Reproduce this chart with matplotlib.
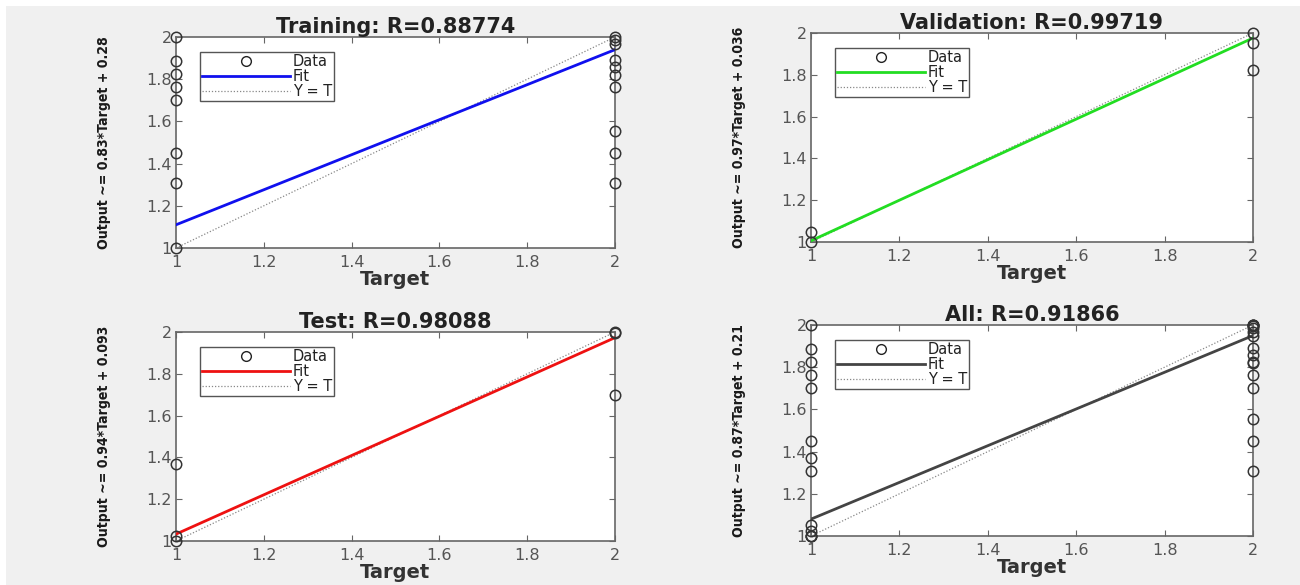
import matplotlib
matplotlib.use("Agg")
import matplotlib.pyplot as plt
from matplotlib.lines import Line2D
from matplotlib.patches import Rectangle
import numpy as np

# ---------------- data ----------------
titles = ["Training: R=0.88774", "Validation: R=0.99719", "Test: R=0.98088", "All: R=0.91866"]
slopes = [0.83, 0.97, 0.94, 0.87]
intercepts = [0.28, 0.036, 0.093, 0.21]
slope_txt = ["0.83", "0.97", "0.94", "0.87"]
icpt_txt = ["0.28", "0.036", "0.093", "0.21"]
fit_colors = ["#1010ee", "#22dd22", "#ee1111", "#444444"]

# outputs observed for target = 1 and target = 2
train_t1 = [2.0, 1.885, 1.825, 1.765, 1.70, 1.45, 1.31, 1.0]
train_t2 = [2.0, 1.985, 1.965, 1.89, 1.86, 1.82, 1.765, 1.555, 1.45, 1.31]
val_t1 = [1.05, 1.0]
val_t2 = [2.0, 1.95, 1.825]
test_t1 = [1.37, 1.025, 1.0]
test_t2 = [2.0, 1.995, 1.70]

targets = [1, 2]
x_ticks = [1, 1.2, 1.4, 1.6, 1.8, 2]
x_tick_labels = ["1", "1.2", "1.4", "1.6", "1.8", "2"]
y_ticks = [1, 1.2, 1.4, 1.6, 1.8, 2]
y_tick_labels = ["1", "1.2", "1.4", "1.6", "1.8", "2"]

sets_t1 = [train_t1, val_t1, test_t1, train_t1 + val_t1 + test_t1]
sets_t2 = [train_t2, val_t2, test_t2, train_t2 + val_t2 + test_t2]

# ---------------- layout ----------------
W, H = 1300, 585
fig = plt.figure(figsize=(W / 100, H / 100), dpi=100)
fig.patch.set_facecolor("white")
fig.patches.append(Rectangle((6 / W, 0), 1 - 6 / W, 1 - 6 / H, transform=fig.transFigure,
                             facecolor="#f0f0f0", edgecolor="none", zorder=-10))

# axes boxes in pixels: left, top, right, bottom
boxes = [(176, 37, 615, 248), (811, 33, 1253, 242),
         (176, 332, 615, 541), (811, 325, 1253, 536)]

tick_col = "#555555"
for i, (l, t, r, b) in enumerate(boxes):
    ax = fig.add_axes([l / W, (H - b) / H, (r - l) / W, (b - t) / H])
    ax.set_facecolor("white")
    xs = np.array(targets, dtype=float)
    # Y = T
    ax.plot(xs, xs, linestyle=(0, (1, 1.5)), color="#888888", linewidth=0.9, zorder=2)
    # fit
    ax.plot(xs, slopes[i] * xs + intercepts[i], color=fit_colors[i], linewidth=2.0, zorder=3)
    # data
    d1 = sets_t1[i]
    d2 = sets_t2[i]
    for tv, dv in ((targets[0], d1), (targets[1], d2)):
        ax.plot([tv] * len(dv), dv, linestyle="none", marker="o", markersize=7.5,
                markerfacecolor="none", markeredgecolor="#333333", markeredgewidth=1.1,
                clip_on=False, zorder=4)

    ax.set_xlim(1, 2)
    ax.set_ylim(1, 2)
    ax.set_xticks(x_ticks)
    ax.set_xticklabels(x_tick_labels)
    ax.set_yticks(y_ticks)
    ax.set_yticklabels(y_tick_labels)
    ax.tick_params(direction="in", top=True, right=True, length=4, width=0.8,
                   color="#666666", labelcolor=tick_col, labelsize=11.5, pad=3)
    ax.tick_params(axis="x", pad=5)
    for s in ax.spines.values():
        s.set_color("#666666")
        s.set_linewidth(1.2)

    ax.set_title(titles[i], fontsize=15, fontweight="bold", color="#222222", pad=3)
    ax.set_xlabel("Target", fontsize=14, fontweight="bold", color="#333333", labelpad=0)
    ax.set_ylabel("Output ~= %s*Target + %s" % (slope_txt[i], icpt_txt[i]),
                  fontsize=10.1, color="#1a1a1a", labelpad=25,
                  family="DejaVu Sans", fontstretch="condensed", fontweight="bold")

    handles = [
        Line2D([], [], linestyle="none", marker="o", markersize=7, markerfacecolor="none",
               markeredgecolor="#222222", markeredgewidth=1.0),
        Line2D([], [], color=fit_colors[i], linewidth=2.0),
        Line2D([], [], color="#888888", linewidth=0.9, linestyle=(0, (1, 1.5))),
    ]
    leg = ax.legend(handles, ["Data", "Fit", "Y = T"], loc="upper left",
                    bbox_to_anchor=(0.055, 0.93), borderaxespad=0, fontsize=10.5,
                    handlelength=6.0, handletextpad=0.2, labelspacing=0.0,
                    borderpad=0.15, fancybox=False, framealpha=1, edgecolor="#555555")
    leg.get_frame().set_linewidth(1.0)
    for txt in leg.get_texts():
        txt.set_color("#222222")

fig.savefig("out.png", dpi=100, facecolor=fig.get_facecolor())
